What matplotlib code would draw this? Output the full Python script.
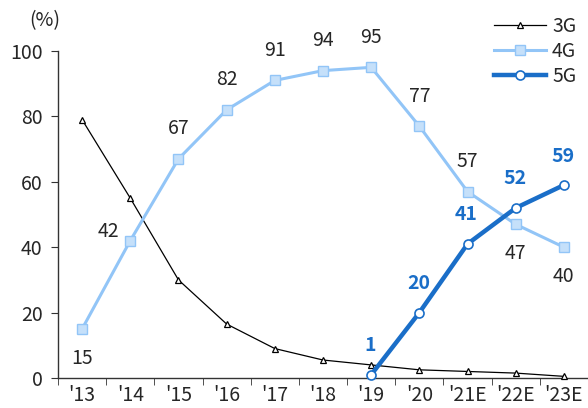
import matplotlib
matplotlib.use('Agg')
import matplotlib.pyplot as plt
import numpy as np

plt.rcParams['font.family'] = ['Noto Sans CJK KR', 'DejaVu Sans']

# data
years = ["'13", "'14", "'15", "'16", "'17", "'18", "'19", "'20", "'21E", "'22E", "'23E"]
g3 = [79, 55, 30, 16.5, 9, 5.5, 4, 2.5, 2, 1.5, 0.5]
g4 = [15, 42, 67, 82, 91, 94, 95, 77, 57, 47, 40]
g5_years = ["'19", "'20", "'21E", "'22E", "'23E"]
g5 = [1, 20, 41, 52, 59]

c4 = '#92c5f7'
c4_fill = '#c5e0fa'
c5 = '#1a6ec8'
txt = '#262626'
fs = 14

fig = plt.figure(figsize=(5.88, 4.08), dpi=100)
ax = fig.add_axes([58 / 588, 30 / 408, 530 / 588, 327 / 408])

x = np.arange(len(years))
x5 = np.array([years.index(y) for y in g5_years])

ax.plot(x, g3, color='black', lw=0.9, marker='^', ms=5, mfc='white', mec='black',
        mew=0.9, label='3G', clip_on=False, zorder=3)
ax.plot(x, g4, color=c4, lw=2.2, marker='s', ms=6.5, mfc=c4_fill, mec=c4,
        mew=1, label='4G', clip_on=False, zorder=4)
ax.plot(x5, g5, color=c5, lw=3.2, marker='o', ms=6.5, mfc='white', mec=c5,
        mew=1.2, label='5G', clip_on=False, zorder=5)

# 4G labels
off4 = [(0, -30), (-22, 9)] + [(0, 30)] * 7 + [(0, -29), (0, -29)]
for xi, v, o in zip(x, g4, off4):
    ax.annotate(str(v), (xi, v), xytext=o, textcoords='offset pixels',
                ha='center', va='center', fontsize=fs, color=txt)

# 5G labels
for xi, v in zip(x5, g5):
    ax.annotate(str(v), (xi, v), xytext=(-1, 29), textcoords='offset pixels',
                ha='center', va='center', fontsize=fs, color=c5, fontweight='bold')

ax.set_xlim(-0.5, len(years) - 0.5)
ax.set_ylim(0, 100)
ax.set_yticks(range(0, 101, 20))
ax.set_xticks(x)
ax.set_xticklabels(years)
ax.set_xticks(np.arange(-0.5, len(years), 1), minor=True)
ax.tick_params(axis='x', which='major', length=0, pad=5, labelsize=fs, labelcolor=txt)
ax.tick_params(axis='x', which='minor', length=5, direction='out', color='#333333')
ax.tick_params(axis='y', length=5, direction='out', pad=6, labelsize=fs,
               labelcolor=txt, color='#333333')

for s in ['top', 'right']:
    ax.spines[s].set_visible(False)
for s in ['left', 'bottom']:
    ax.spines[s].set_color('#333333')
    ax.spines[s].set_linewidth(1)

fig.text(45 / 588, 1 - 21 / 408, '(%)', ha='center', va='center', fontsize=fs, color=txt)

fig.legend(loc='upper right', bbox_to_anchor=(1.0, 0.99), frameon=False, fontsize=fs,
           handlelength=2.7, labelspacing=0.2, handletextpad=0.3,
           borderaxespad=0.2, labelcolor=txt)

fig.savefig('out.png', dpi=100)
